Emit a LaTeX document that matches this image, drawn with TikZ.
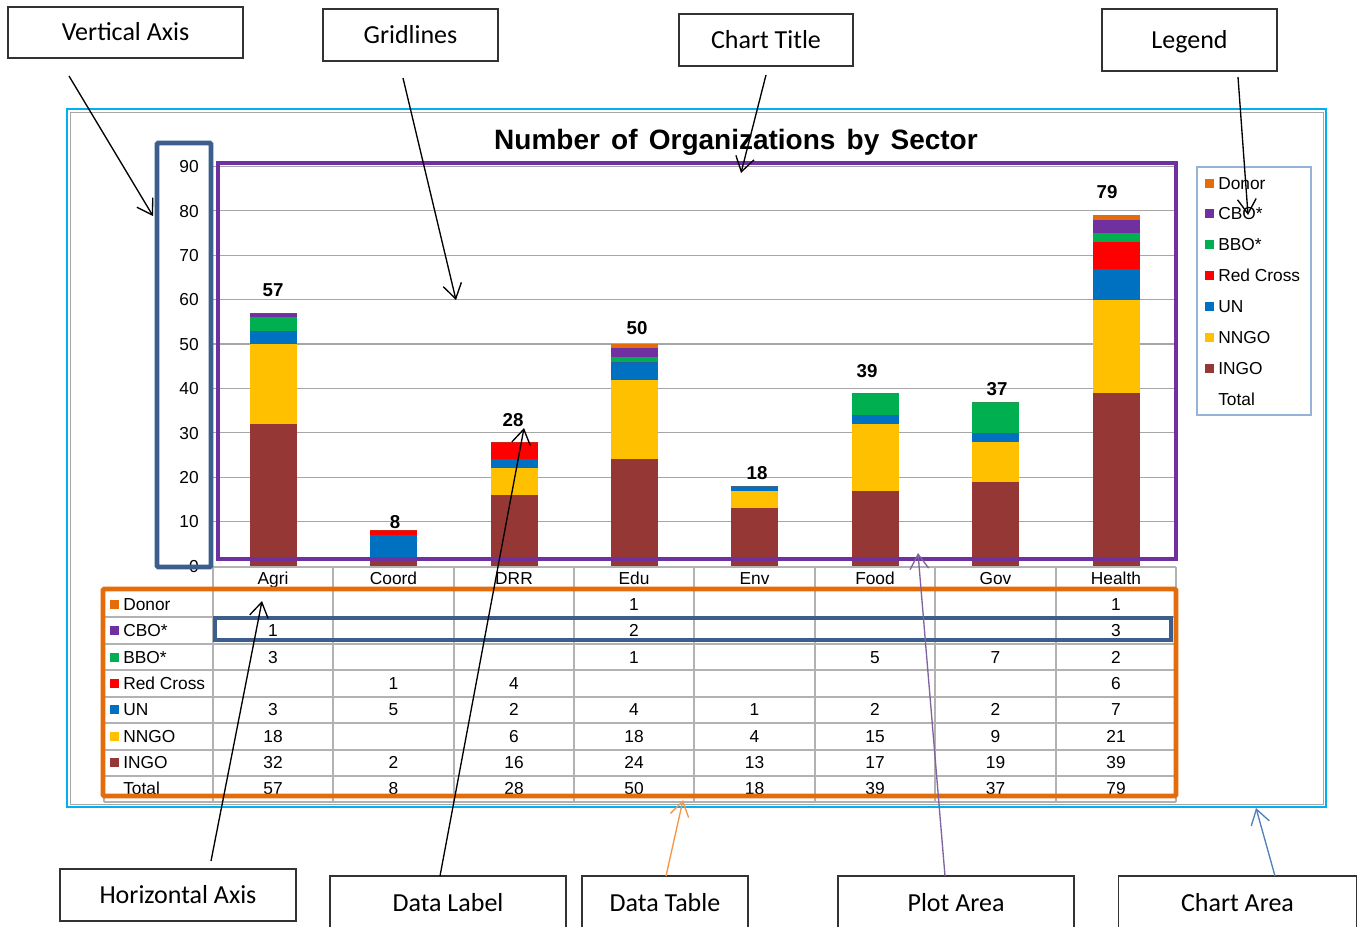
\documentclass[tikz,border=0pt]{standalone}
\usepackage{fontspec}
\setmainfont{Liberation Sans}
\newfontfamily\calloutfont{Carlito}
\usetikzlibrary{arrows.meta}
\definecolor{colDonor}{HTML}{E46C0A}
\definecolor{colCBO}{HTML}{7030A0}
\definecolor{colBBO}{HTML}{00B050}
\definecolor{colRedCross}{HTML}{FF0000}
\definecolor{colUN}{HTML}{0070C0}
\definecolor{colNNGO}{HTML}{FFC000}
\definecolor{colINGO}{HTML}{953735}
\definecolor{axisblue}{HTML}{3B5E8C}
\definecolor{areablue}{HTML}{00B0F0}
\definecolor{legendline}{HTML}{95B3D7}
\definecolor{plotarrow}{HTML}{8064A2}
\definecolor{tablearrow}{HTML}{F79646}
\definecolor{areaarrow}{HTML}{4F81BD}
\newcommand{\chcallout}[5] {\node at (#1) (#2) [callout, minimum width=#3*0.75pt, minimum height=#4*0.75pt] {#5};}
\newcommand{\charrow}[3] {\draw [pointer, #3] (#1) -- (#2);}
\newcommand{\chkey}[4] {\fill [#2] (1205,#1-4.5) rectangle (1214,#1+4.5); \node at (1218,#1) (#4) [keytext] {#3};}
\newcommand{\chrowlabel}[4] {\fill [#2] (110,#1-4.5) rectangle (119,#1+4.5); \node at (123,#1) (#4) [keytext] {#3};}
\newcommand{\chrow}[9] {%
  \node at (273,#1) (v#1a) [cell] {#2}; \node at (393.5,#1) (v#1b) [cell] {#3};
  \node at (514,#1) (v#1c) [cell] {#4}; \node at (634,#1) (v#1d) [cell] {#5};
  \node at (754.5,#1) (v#1e) [cell] {#6}; \node at (875,#1) (v#1f) [cell] {#7};
  \node at (995.5,#1) (v#1g) [cell] {#8}; \node at (1116,#1) (v#1h) [cell] {#9};}
% stacked bar: x, then INGO NNGO UN RedCross BBO CBO Donor
\newcommand{\chbar}[8] {%
  \pgfmathsetmacro{\hA}{#2}
  \pgfmathsetmacro{\hB}{\hA+#3}
  \pgfmathsetmacro{\hC}{\hB+#4}
  \pgfmathsetmacro{\hD}{\hC+#5}
  \pgfmathsetmacro{\hE}{\hD+#6}
  \pgfmathsetmacro{\hF}{\hE+#7}
  \pgfmathsetmacro{\hG}{\hF+#8}
  \fill [colINGO] ({#1-23.5},{yv(0)}) rectangle ({#1+23.5},{yv(\hA)});
  \fill [colNNGO] ({#1-23.5},{yv(\hA)}) rectangle ({#1+23.5},{yv(\hB)});
  \fill [colUN] ({#1-23.5},{yv(\hB)}) rectangle ({#1+23.5},{yv(\hC)});
  \fill [colRedCross] ({#1-23.5},{yv(\hC)}) rectangle ({#1+23.5},{yv(\hD)});
  \fill [colBBO] ({#1-23.5},{yv(\hD)}) rectangle ({#1+23.5},{yv(\hE)});
  \fill [colCBO] ({#1-23.5},{yv(\hE)}) rectangle ({#1+23.5},{yv(\hF)});
  \fill [colDonor] ({#1-23.5},{yv(\hF)}) rectangle ({#1+23.5},{yv(\hG)});}

\begin{document}
\begin{tikzpicture}[x=0.75pt, y=-0.75pt,
  declare function={yv(\v)=566-4.44*\v;},
  callout/.style={draw=black!80, line width=1pt, fill=white, inner sep=0pt, text height=12.6pt, text depth=0pt, font=\calloutfont\fontsize{19.5}{23}\selectfont},
  pointer/.style={line width=1pt, -{Straight Barb[length=11pt, width=14pt, line width=1pt]}},
  gridline/.style={draw=black!35, line width=0.8pt},
  tblline/.style={draw=black!30, line width=0.8pt},
  cell/.style={inner sep=0pt, text height=9.3pt, text depth=0pt, font=\fontsize{13}{15}\selectfont},
  keytext/.style={cell, anchor=west},
  datalbl/.style={inner sep=0pt, text height=10.2pt, text depth=0pt, font=\bfseries\fontsize{14}{16}\selectfont}]

\useasboundingbox (0,0) rectangle (1364,926);
\fill [white] (0,0) rectangle (1364,926);

% chart area
\draw [areablue, line width=2.2pt] (67,109) rectangle (1326,807);
\draw [black!35, line width=0.6pt] (70,112) rectangle (1323,804);

\node at (736,139) (title) [inner sep=0pt, text height=15pt, text depth=0pt, font=\bfseries\fontsize{21}{25}\selectfont] {\spaceskip=8.4pt Number of Organizations by Sector};

% gridlines and axis
\foreach \v in {10,20,...,90} \draw [gridline] (213,{yv(\v)}) -- (1177,{yv(\v)});
\foreach \v in {0,10,...,90} \node at (199,{yv(\v)}) (ax\v) [cell, anchor=east] {\v};

\chbar{273}{32}{18}{3}{0}{3}{1}{0}
\chbar{393.5}{2}{0}{5}{1}{0}{0}{0}
\chbar{514}{16}{6}{2}{4}{0}{0}{0}
\chbar{634}{24}{18}{4}{0}{1}{2}{1}
\chbar{754.5}{13}{4}{1}{0}{0}{0}{0}
\chbar{875}{17}{15}{2}{0}{5}{0}{0}
\chbar{995.5}{19}{9}{2}{0}{7}{0}{0}
\chbar{1116}{39}{21}{7}{6}{2}{3}{1}

\node at (273,290) (lbl-agri) [datalbl] {57};
\node at (395,522) (lbl-coord) [datalbl] {8};
\node at (513,420) (lbl-drr) [datalbl] {28};
\node at (637,328) (lbl-edu) [datalbl] {50};
\node at (757,473) (lbl-env) [datalbl] {18};
\node at (867,371) (lbl-food) [datalbl] {39};
\node at (997,389) (lbl-gov) [datalbl] {37};
\node at (1107,192) (lbl-health) [datalbl] {79};

% data table
\draw [tblline] (213,567) -- (1176,567);
\foreach \x in {213,333,454,574,694,815,935,1056,1176} \draw [tblline] (\x,567) -- (\x,802);
\draw [tblline] (104,589) -- (104,802);
\foreach \y in {589,617,644,670,697,723,750,776,802} \draw [tblline] (104,\y) -- (1176,\y);
\foreach \x/\c in {273/Agri,393.5/Coord,514/DRR,634/Edu,754.5/Env,875/Food,995.5/Gov,1116/Health}
  \node at (\x,578) (cat-\c) [cell] {\c};

\chrowlabel{604}{colDonor}{Donor}{row-donor}
\chrowlabel{630}{colCBO}{CBO*}{row-cbo}
\chrowlabel{657}{colBBO}{BBO*}{row-bbo}
\chrowlabel{683}{colRedCross}{Red Cross}{row-rc}
\chrowlabel{709}{colUN}{UN}{row-un}
\chrowlabel{736}{colNNGO}{NNGO}{row-nngo}
\chrowlabel{762}{colINGO}{INGO}{row-ingo}
\node at (123,788) (row-total) [keytext] {Total};

\chrow{604}{}{}{}{1}{}{}{}{1}
\chrow{630}{1}{}{}{2}{}{}{}{3}
\chrow{657}{3}{}{}{1}{}{5}{7}{2}
\chrow{683}{}{1}{4}{}{}{}{}{6}
\chrow{709}{3}{5}{2}{4}{1}{2}{2}{7}
\chrow{736}{18}{}{6}{18}{4}{15}{9}{21}
\chrow{762}{32}{2}{16}{24}{13}{17}{19}{39}
\chrow{788}{57}{8}{28}{50}{18}{39}{37}{79}

% legend
\draw [legendline, line width=0.8pt] (1197,167) rectangle (1311,415);
\chkey{183}{colDonor}{Donor}{key-donor}
\chkey{213}{colCBO}{CBO*}{key-cbo}
\chkey{244}{colBBO}{BBO*}{key-bbo}
\chkey{275}{colRedCross}{Red Cross}{key-rc}
\chkey{306}{colUN}{UN}{key-un}
\chkey{337}{colNNGO}{NNGO}{key-nngo}
\chkey{368}{colINGO}{INGO}{key-ingo}
\node at (1218,399) (key-total) [keytext] {Total};

% highlight frames
\draw [colCBO, line width=3.7pt] (218,163) rectangle (1176,559);
\draw [axisblue, line width=3.7pt, rounded corners=1pt] (157,143) rectangle (211,567);
\draw [colDonor, line width=3.7pt, rounded corners=1pt] (103,589) rectangle (1176,796);
\draw [axisblue, line width=3pt] (215,618) rectangle (1171,640);

% callouts
\chcallout{125.5,32.5}{vaxis}{235}{51}{Vertical Axis}
\chcallout{410.5,35}{grid}{175}{52}{Gridlines}
\chcallout{766,40}{ctitle}{174}{52}{Chart Title}
\chcallout{1189.5,40}{legend}{175}{62}{Legend}
\chcallout{178,895}{haxis}{236}{52}{Horizontal Axis}
\chcallout{448,903}{dlabel}{236}{54}{Data Label}
\chcallout{665,903}{dtable}{166}{54}{Data Table}
\chcallout{956,903}{parea}{236}{54}{Plot Area}
\chcallout{1237.5,903}{carea}{238}{54}{Chart Area}

\coordinate (vaxis-t) at (69,76);     \coordinate (vaxis-h) at (153,216);
\coordinate (grid-t) at (403,78);     \coordinate (grid-h) at (456,300);
\coordinate (ctitle-t) at (766,75);   \coordinate (ctitle-h) at (741,173);
\coordinate (legend-t) at (1238,77);  \coordinate (legend-h) at (1248,215);
\coordinate (haxis-t) at (211,861);   \coordinate (haxis-h) at (262,601);
\coordinate (dlabel-t) at (440,876);  \coordinate (dlabel-h) at (524,428);
\coordinate (dtable-t) at (666,876);  \coordinate (dtable-h) at (683,800);
\coordinate (parea-t) at (945,876);   \coordinate (parea-h) at (918,553);
\coordinate (carea-t) at (1275,876);  \coordinate (carea-h) at (1256,808);

\charrow{vaxis-t}{vaxis-h}{black}
\charrow{grid-t}{grid-h}{black}
\charrow{ctitle-t}{ctitle-h}{black}
\charrow{legend-t}{legend-h}{black}
\charrow{haxis-t}{haxis-h}{black}
\charrow{dlabel-t}{dlabel-h}{black}
\charrow{dtable-t}{dtable-h}{tablearrow}
\charrow{parea-t}{parea-h}{plotarrow}
\charrow{carea-t}{carea-h}{areaarrow}
\end{tikzpicture}
\end{document}
